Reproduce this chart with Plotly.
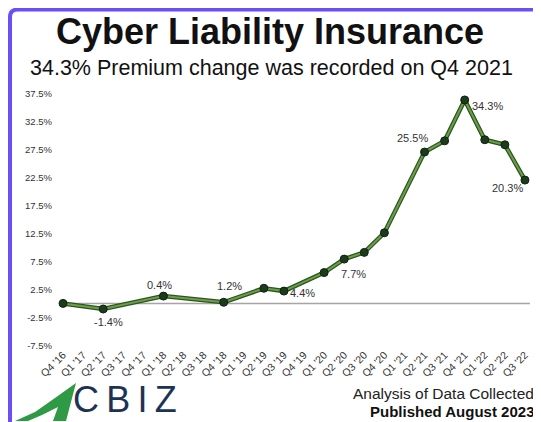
import plotly.graph_objects as go

# quarters on the x axis
quarters = ["Q4 '16", "Q1 '17", "Q2 '17", "Q3 '17", "Q4 '17", "Q1 '18", "Q2 '18", "Q3 '18",
            "Q4 '18", "Q1 '19", "Q2 '19", "Q3 '19", "Q4 '19", "Q1 '20", "Q2 '20", "Q3 '20",
            "Q4 '20", "Q1 '21", "Q2 '21", "Q3 '21", "Q4 '21", "Q1 '22", "Q2 '22", "Q3 '22"]

# premium change (%); None = quarter without a marker
premium_change = [0.0, None, -1.0, None, None, 1.3, None, None,
                  0.2, None, 2.7, 2.2, None, 5.5, 7.9, 9.1,
                  12.6, None, 27.0, 29.0, 36.3, 29.2, 28.3, 22.0]

# labelled points: quarter -> label text
point_labels = {"Q2 '17": "-1.4%", "Q1 '18": "0.4%", "Q4 '18": "1.2%", "Q3 '19": "4.4%",
                "Q2 '20": "7.7%", "Q2 '21": "25.5%", "Q4 '21": "34.3%", "Q3 '22": "20.3%"}
label_offsets = {"Q2 '17": (5, -13), "Q1 '18": (-4, 11), "Q4 '18": (6, 16), "Q3 '19": (19, -2),
                 "Q2 '20": (9, -15), "Q2 '21": (-12, 14), "Q4 '21": (23, -6), "Q3 '22": (-17, -8)}

y_ticks = [-7.5, -2.5, 2.5, 7.5, 12.5, 17.5, 22.5, 27.5, 32.5, 37.5]
y_ticktext = ["-7.5%", "-2.5%", "2.5%", "7.5%", "12.5%", "17.5%", "22.5%", "27.5%", "32.5%", "37.5%"]

# the page body adds an 8px margin, so the figure is drawn 8px in from the corner
OFF = 8
W_FIG, H_FIG = 541 - OFF, 422 - OFF
L, T, W, H = 53 - OFF, 82 - OFF, 482, 264


def px(x):
    # reference pixel x -> paper coordinate
    return (x - OFF - L) / W


def py(y):
    return (T + H - (y - OFF)) / H


narrow = "Liberation Sans Narrow, Arial Narrow, Liberation Sans, sans-serif"
arial = "Liberation Sans, Arial, sans-serif"

fig = go.Figure()
fig.add_trace(go.Scatter(
    x=quarters, y=premium_change, mode="lines", connectgaps=True,
    line=dict(color="#2d5424", width=4.5), hoverinfo="skip", showlegend=False
))
fig.add_trace(go.Scatter(
    x=quarters, y=premium_change, mode="lines+markers", connectgaps=True,
    line=dict(color="#6c9f45", width=2),
    marker=dict(size=8, color="#1c3a1c", line=dict(color="#0f230f", width=1)),
    showlegend=False,
    hovertemplate="%{x}: %{y:.1f}%<extra></extra>"
))

annotations = []
for q, txt in point_labels.items():
    dx, dy = label_offsets[q]
    annotations.append(dict(
        x=q, y=premium_change[quarters.index(q)], text=txt, showarrow=False,
        xshift=dx, yshift=dy, font=dict(family=narrow, size=11, color="#333333")
    ))


def label(x, y, text, size, color="#111111", xanchor="center", family=arial):
    return dict(x=px(x), y=py(y), xref="paper", yref="paper", showarrow=False,
                xanchor=xanchor, yanchor="middle", text=text,
                font=dict(family=family, size=size, color=color))


annotations += [
    label(270, 31, "<b>Cyber Liability Insurance</b>", 36),
    label(271, 68, "34.3% Premium change was recorded on Q4 2021", 21.5),
    label(536, 393, "Analysis of Data Collected", 15.5, "#222222", "right"),
    label(536, 411, "<b>Published August 2023</b>", 15, "#111111", "right"),
    label(71, 399.5, "C\u2009B\u2009I\u2009Z", 36, "#1d3354", "left"),
]


def path(points):
    return "M " + " L ".join(f"{px(x):.4f},{py(y):.4f}" for x, y in points) + " Z"


shapes = [
    # zero reference line
    dict(type="line", xref="x", yref="y", x0=0, x1=23.25, y0=0, y1=0,
         line=dict(color="#a9a3a3", width=1.5), layer="below"),
    # purple frame (left and top edges visible)
    dict(type="path", xref="paper", yref="paper",
         path=(f"M {px(10):.4f},{py(440):.4f} L {px(10):.4f},{py(17):.4f} "
               f"Q {px(10):.4f},{py(9.5):.4f} {px(18):.4f},{py(9.5):.4f} "
               f"L {px(560):.4f},{py(9.5):.4f}"),
         line=dict(color="#6b4ff2", width=4)),
    # logo swoosh
    dict(type="path", xref="paper", yref="paper",
         path=path([(15, 421), (35, 412), (55, 398), (76, 383), (66, 421), (53, 421),
                    (58, 407), (42, 415), (28, 421)]),
         fillcolor="#2f9a45", line=dict(width=0)),
]

fig.update_layout(
    width=W_FIG, height=H_FIG,
    margin=dict(l=L, r=W_FIG - L - W, t=T, b=H_FIG - T - H),
    paper_bgcolor="white", plot_bgcolor="white",
    showlegend=False,
    annotations=annotations,
    shapes=shapes,
    xaxis=dict(
        type="category", range=[-0.5, 23.5], tickangle=-45,
        showgrid=False, zeroline=False, showline=False, ticks="",
        tickfont=dict(family=narrow, size=10.5, color="#333333")
    ),
    yaxis=dict(
        range=[-7.6, 39.5], tickvals=y_ticks, ticktext=y_ticktext,
        showgrid=False, zeroline=False, showline=False, ticks="",
        tickfont=dict(family=narrow, size=9.5, color="#333333")
    ),
)

fig.write_html("out.html")
